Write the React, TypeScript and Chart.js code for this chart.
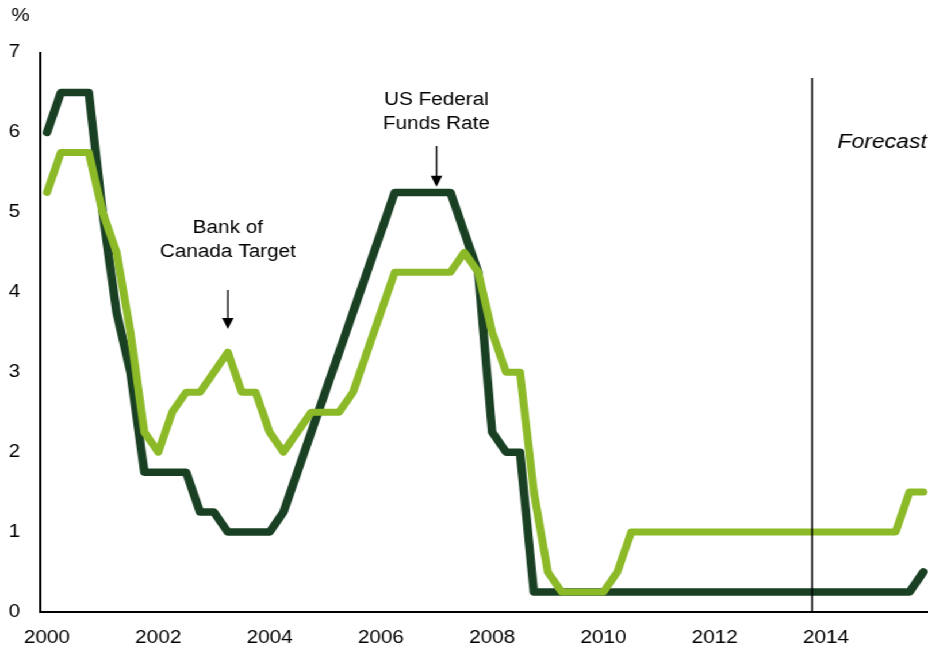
import React, { useEffect, useRef } from 'react';
import { Chart, registerables } from 'chart.js';

Chart.register(...registerables);

// ---- Data (quarterly, 2000Q1 – 2015Q4) ----
const quarters: string[] = [
  '2000Q1','2000Q2','2000Q3','2000Q4','2001Q1','2001Q2','2001Q3','2001Q4',
  '2002Q1','2002Q2','2002Q3','2002Q4','2003Q1','2003Q2','2003Q3','2003Q4',
  '2004Q1','2004Q2','2004Q3','2004Q4','2005Q1','2005Q2','2005Q3','2005Q4',
  '2006Q1','2006Q2','2006Q3','2006Q4','2007Q1','2007Q2','2007Q3','2007Q4',
  '2008Q1','2008Q2','2008Q3','2008Q4','2009Q1','2009Q2','2009Q3','2009Q4',
  '2010Q1','2010Q2','2010Q3','2010Q4','2011Q1','2011Q2','2011Q3','2011Q4',
  '2012Q1','2012Q2','2012Q3','2012Q4','2013Q1','2013Q2','2013Q3','2013Q4',
  '2014Q1','2014Q2','2014Q3','2014Q4','2015Q1','2015Q2','2015Q3','2015Q4',
];

const yearTickLabels: string[] = ['2000', '2002', '2004', '2006', '2008', '2010', '2012', '2014'];

const bankOfCanadaTarget: number[] = [
  5.25, 5.75, 5.75, 5.75,
  5.0, 4.5, 3.5, 2.25,
  2.0, 2.5, 2.75, 2.75,
  3.0, 3.25, 2.75, 2.75,
  2.25, 2.0, 2.25, 2.5,
  2.5, 2.5, 2.75, 3.25,
  3.75, 4.25, 4.25, 4.25,
  4.25, 4.25, 4.5, 4.25,
  3.5, 3.0, 3.0, 1.5,
  0.5, 0.25, 0.25, 0.25,
  0.25, 0.5, 1.0, 1.0,
  1.0, 1.0, 1.0, 1.0,
  1.0, 1.0, 1.0, 1.0,
  1.0, 1.0, 1.0, 1.0,
  1.0, 1.0, 1.0, 1.0,
  1.0, 1.0, 1.5, 1.5,
];

const usFederalFundsRate: number[] = [
  6.0, 6.5, 6.5, 6.5,
  5.0, 3.75, 3.0, 1.75,
  1.75, 1.75, 1.75, 1.25,
  1.25, 1.0, 1.0, 1.0,
  1.0, 1.25, 1.75, 2.25,
  2.75, 3.25, 3.75, 4.25,
  4.75, 5.25, 5.25, 5.25,
  5.25, 5.25, 4.75, 4.25,
  2.25, 2.0, 2.0, 0.25,
  0.25, 0.25, 0.25, 0.25,
  0.25, 0.25, 0.25, 0.25,
  0.25, 0.25, 0.25, 0.25,
  0.25, 0.25, 0.25, 0.25,
  0.25, 0.25, 0.25, 0.25,
  0.25, 0.25, 0.25, 0.25,
  0.25, 0.25, 0.25, 0.5,
];

const yMin = 0;
const yMax = 7;
const forecastStartIndex = 55; // 2013Q4

// ---- Styling / layout ----
const SX = 1.15; // horizontal stretch of the whole picture
const CANVAS_W = 818;
const CANVAS_H = 649;
const FONT_FAMILY = '"Liberation Sans", Arial, Helvetica, sans-serif';
const LIGHT_GREEN = '#8CB927';
const DARK_GREEN = '#1A4024';

function drawArrow(ctx: CanvasRenderingContext2D, x: number, yTop: number, yTip: number) {
  const headH = 11;
  const headW = 5;
  ctx.beginPath();
  ctx.moveTo(x, yTop);
  ctx.lineTo(x, yTip - headH + 1);
  ctx.stroke();
  ctx.beginPath();
  ctx.moveTo(x - headW, yTip - headH);
  ctx.lineTo(x + headW, yTip - headH);
  ctx.lineTo(x, yTip);
  ctx.closePath();
  ctx.fill();
}

const overlayPlugin = {
  id: 'overlay',
  afterDatasetsDraw(chart: any) {
    const { ctx, chartArea, scales } = chart;
    const x = scales.x;
    const y = scales.y;
    ctx.save();

    // forecast divider
    const fx = x.getPixelForValue(forecastStartIndex);
    ctx.strokeStyle = '#000';
    ctx.lineWidth = 1.5;
    ctx.beginPath();
    ctx.moveTo(fx, y.getPixelForValue(6.68));
    ctx.lineTo(fx, chartArea.bottom);
    ctx.stroke();

    ctx.fillStyle = '#000';
    ctx.textBaseline = 'middle';

    // Forecast label
    ctx.font = `italic 20px ${FONT_FAMILY}`;
    ctx.textAlign = 'right';
    ctx.fillText('Forecast', chartArea.right - 3, y.getPixelForValue(5.88));

    // Annotations
    ctx.font = `18px ${FONT_FAMILY}`;
    ctx.textAlign = 'center';
    const bocX = x.getPixelForValue(13);
    ctx.fillText('Bank of', bocX, y.getPixelForValue(4.80));
    ctx.fillText('Canada Target', bocX, y.getPixelForValue(4.50));
    const fedX = x.getPixelForValue(28);
    ctx.fillText('US Federal', fedX, y.getPixelForValue(6.40));
    ctx.fillText('Funds Rate', fedX, y.getPixelForValue(6.10));

    // arrows
    ctx.lineWidth = 1.3;
    ctx.strokeStyle = '#000';
    drawArrow(ctx, bocX, y.getPixelForValue(4.03), y.getPixelForValue(3.54));
    drawArrow(ctx, fedX, y.getPixelForValue(5.83), y.getPixelForValue(5.32));

    // unit label
    ctx.font = `18px ${FONT_FAMILY}`;
    ctx.textAlign = 'center';
    ctx.fillText('%', 17.8, 16);

    ctx.restore();
  },
};

export default function App() {
  const canvasRef = useRef<HTMLCanvasElement>(null);

  useEffect(() => {
    if (!canvasRef.current) return;
    const chart = new Chart(canvasRef.current, {
      type: 'line',
      data: {
        labels: quarters,
        datasets: [
          {
            label: 'Bank of Canada Target',
            data: bankOfCanadaTarget,
            borderColor: LIGHT_GREEN,
            backgroundColor: LIGHT_GREEN,
            borderWidth: 7,
            pointRadius: 0,
            tension: 0,
            borderCapStyle: 'round',
            borderJoinStyle: 'round',
            fill: false,
          },
          {
            label: 'US Federal Funds Rate',
            data: usFederalFundsRate,
            borderColor: DARK_GREEN,
            backgroundColor: DARK_GREEN,
            borderWidth: 7.5,
            pointRadius: 0,
            tension: 0,
            borderCapStyle: 'round',
            borderJoinStyle: 'round',
            fill: false,
          },
        ],
      },
      options: {
        responsive: false,
        animation: false,
        devicePixelRatio: 1,
        layout: { padding: { top: 52.5, left: 0, right: 0, bottom: 0 } },
        plugins: {
          legend: { display: false },
          tooltip: { enabled: false },
        },
        scales: {
          x: {
            type: 'category',
            offset: true,
            grid: { display: false, drawTicks: false },
            border: { display: true, color: '#000', width: 2 },
            ticks: {
              autoSkip: false,
              maxRotation: 0,
              minRotation: 0,
              padding: 15,
              color: '#000',
              font: { family: FONT_FAMILY, size: 18 },
              callback: (_v: any, i: number) => (i % 8 === 0 ? yearTickLabels[i / 8] : ''),
            },
            afterFit: (s: any) => {
              s.height = 37;
            },
          },
          y: {
            min: yMin,
            max: yMax,
            grid: { display: false, drawTicks: false },
            border: { display: true, color: '#000', width: 2 },
            ticks: {
              stepSize: 1,
              padding: 17.4,
              color: '#000',
              font: { family: FONT_FAMILY, size: 18 },
            },
            afterFit: (s: any) => {
              s.width = 34.8;
            },
          },
        },
      },
      plugins: [overlayPlugin],
    } as any);
    return () => chart.destroy();
  }, []);

  return (
    <div
      style={{
        position: 'absolute',
        left: 0,
        top: 0,
        width: 928 / SX,
        height: CANVAS_H,
        overflow: 'hidden',
        transform: `scaleX(${SX})`,
        transformOrigin: '0 0',
        background: '#fff',
      }}
    >
      <canvas
        ref={canvasRef}
        width={CANVAS_W}
        height={CANVAS_H}
        style={{ width: `${CANVAS_W}px`, height: `${CANVAS_H}px`, display: 'block' }}
      />
    </div>
  );
}
